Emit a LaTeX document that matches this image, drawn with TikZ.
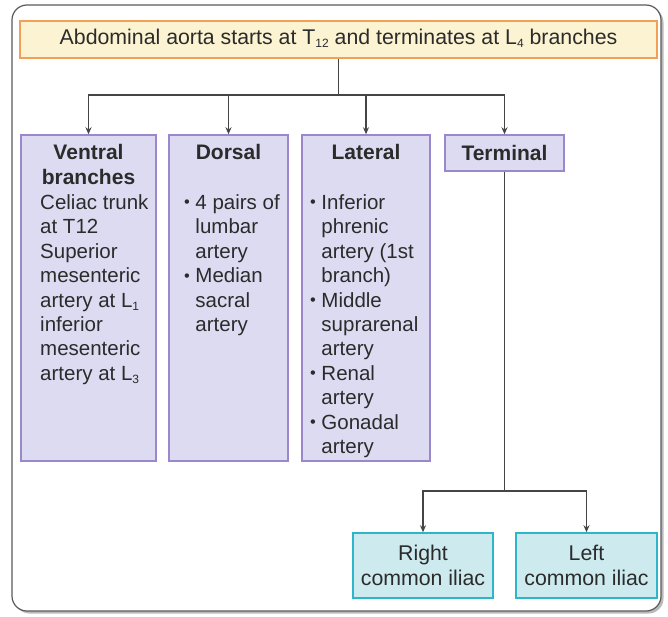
\documentclass[tikz,border=0pt]{standalone}
\usepackage{fontspec}
\setmainfont{Liberation Sans}
\usetikzlibrary{arrows.meta,shadows}

\definecolor{inkgray}{HTML}{2B2B2B}
\definecolor{linegray}{HTML}{454545}
\definecolor{framegray}{HTML}{5A5A5A}
\definecolor{titlefill}{HTML}{FCF3D2}
\definecolor{titleline}{HTML}{F2A055}
\definecolor{branchfill}{HTML}{DCDBF1}
\definecolor{branchline}{HTML}{9B87CB}
\definecolor{iliacfill}{HTML}{CDEAEF}
\definecolor{iliacline}{HTML}{2DB6C9}

\newcommand{\bul}{\makebox[0.55em][l]{\raisebox{0.08em}{\scalebox{0.8}{•}}}}
\newcommand{\cont}{\hspace*{0.55em}}
\newcommand{\low}[1]{\raisebox{-0.17em}{\fontsize{12}{12}\selectfont #1}}

\begin{document}
\begin{tikzpicture}
[x=1pt, y=-1pt,
frame/.style={draw=framegray, line width=1.2pt, rounded corners=15pt, fill=white,
  drop shadow={shadow xshift=2.5pt, shadow yshift=-2.5pt, opacity=0.45, fill=black!60}},
titlebox/.style={draw=titleline, fill=titlefill, line width=2pt, inner sep=0pt, text=inkgray,
  font=\fontsize{21.3}{25}\selectfont, text height=15.5pt, text depth=6.3pt},
branchbox/.style={draw=branchline, fill=branchfill, line width=1.5pt, inner sep=0pt},
iliacbox/.style={draw=iliacline, fill=iliacfill, line width=1.5pt, inner sep=0pt, align=center,
  text=inkgray, font=\fontsize{21.3}{25}\selectfont},
head/.style={inner sep=0pt, align=center, text=inkgray, font=\fontsize{21}{24.6}\bfseries\selectfont},
body/.style={inner sep=0pt, align=left, anchor=north west, text=inkgray, font=\fontsize{20.5}{24.4}\selectfont},
link/.style={draw=linegray, line width=1.2pt},
arrow/.style={link, -{Stealth[length=7pt, width=6pt]}}]
\useasboundingbox (0,0) rectangle (668,616);
\draw[frame] (12,5) rectangle (661,611);

\node[titlebox, minimum width=637pt, minimum height=37pt] (aorta) at (338.5,39.5)
  {Abdominal aorta starts at T\low{12} and terminates at L\low{4} branches};

\node[branchbox, minimum width=135pt, minimum height=326pt] (ventral) at (88.5,298) {};
\node[branchbox, minimum width=119pt, minimum height=326pt] (dorsal) at (228.5,298) {};
\node[branchbox, minimum width=128pt, minimum height=326pt] (lateral) at (366,298) {};
\node[branchbox, minimum width=119pt, minimum height=36pt, text=inkgray,
  font=\fontsize{21}{24.6}\bfseries\selectfont] (terminal) at (504.5,153) {Terminal};

\node[head] (ventralhead) at (88.5,164.5) {Ventral\\branches};
\node[head] (dorsalhead) at (228.5,152) {Dorsal};
\node[head] (lateralhead) at (366,152) {Lateral};

\node[body] (ventraltext) at (40,194.5) {Celiac trunk\\at T12\\Superior\\mesenteric\\artery at L\low{1}\\inferior\\mesenteric\\artery at L\low{3}};
\node[body] (dorsaltext) at (184,194.5) {\bul 4 pairs of\\\cont lumbar\\\cont artery\\\bul Median\\\cont sacral\\\cont artery};
\node[body] (lateraltext) at (310,194.5) {\bul Inferior\\\cont phrenic\\\cont artery (1st\\\cont branch)\\\bul Middle\\\cont suprarenal\\\cont artery\\\bul Renal\\\cont artery\\\bul Gonadal\\\cont artery};

\node[iliacbox, minimum width=140pt, minimum height=65pt] (rightiliac) at (423,565.5) {Right\\common iliac};
\node[iliacbox, minimum width=141pt, minimum height=65pt] (leftiliac) at (586.5,565.5) {Left\\common iliac};

\coordinate (fork) at (338.5,95);
\draw[link] (aorta.south) -- (fork);
\draw[arrow] (fork) -| (ventral.north);
\draw[arrow] (fork) -| (dorsal.north);
\draw[arrow] (fork) -| (lateral.north);
\draw[arrow] (fork) -| (terminal.north);

\coordinate (iliacfork) at (504.5,491);
\draw[link] (terminal.south) -- (iliacfork);
\draw[arrow] (iliacfork) -| (rightiliac.north);
\draw[arrow] (iliacfork) -| (leftiliac.north);
\end{tikzpicture}
\end{document}
